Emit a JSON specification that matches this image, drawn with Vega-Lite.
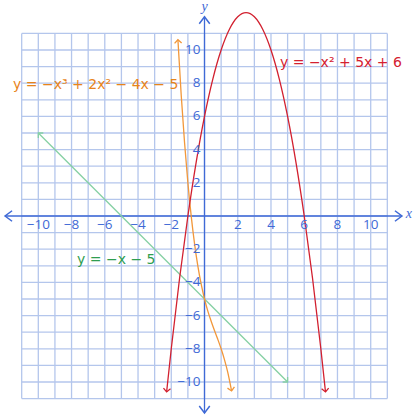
{
  "$schema": "https://vega.github.io/schema/vega-lite/v6.json",
  "width": 414,
  "height": 418,
  "autosize": "none",
  "padding": 0,
  "config": {"view": {"stroke": null}},
  "datasets": {
    "grid": [{"v":-11},{"v":-10},{"v":-9},{"v":-8},{"v":-7},{"v":-6},{"v":-5},{"v":-4},{"v":-3},{"v":-2},{"v":-1},{"v":0},{"v":1},{"v":2},{"v":3},{"v":4},{"v":5},{"v":6},{"v":7},{"v":8},{"v":9},{"v":10},{"v":11}],
    "axes": [{"x1":-12.0,"x2":11.88,"y1":0,"y2":0},{"x1":0,"x2":0,"y1":-11.87,"y2":12.0}],
    "red": [{"x":-2.28,"y":-10.6},{"x":-2,"y":-8},{"x":-1.5,"y":-3.75},{"x":-1,"y":0},{"x":-0.5,"y":3.25},{"x":0,"y":6},{"x":0.5,"y":8.25},{"x":1,"y":10},{"x":1.5,"y":11.25},{"x":2,"y":12},{"x":2.5,"y":12.25},{"x":3,"y":12},{"x":3.5,"y":11.25},{"x":4,"y":10},{"x":4.5,"y":8.25},{"x":5,"y":6},{"x":5.5,"y":3.25},{"x":6,"y":0},{"x":6.5,"y":-3.75},{"x":7,"y":-8},{"x":7.28,"y":-10.6}],
    "orange": [{"x":-1.6,"y":10.62},{"x":-1.4,"y":7.26},{"x":-1.2,"y":4.41},{"x":-1,"y":2},{"x":-0.8,"y":-0.01},{"x":-0.6,"y":-1.66},{"x":-0.4,"y":-3.02},{"x":-0.2,"y":-4.11},{"x":0,"y":-5},{"x":0.2,"y":-5.73},{"x":0.4,"y":-6.34},{"x":0.6,"y":-6.9},{"x":0.8,"y":-7.43},{"x":1,"y":-8},{"x":1.2,"y":-8.65},{"x":1.4,"y":-9.42},{"x":1.63,"y":-10.54}],
    "green": [{"x":-10,"y":5},{"x":5,"y":-10}],
    "arrows": [
      {"series":"red","x":-2.28,"y":-10.6,"dir":96},
      {"series":"red","x":7.28,"y":-10.6,"dir":84},
      {"series":"orange","x":-1.6,"y":10.62,"dir":-93.2},
      {"series":"orange","x":1.63,"y":-10.54,"dir":79.6},
      {"series":"green","x":-10,"y":5,"dir":-135},
      {"series":"green","x":5,"y":-10,"dir":45}
    ],
    "axisArrows": [
      {"x":11.88,"y":0,"dir":0},
      {"x":-12.0,"y":0,"dir":180},
      {"x":0,"y":12.0,"dir":-90},
      {"x":0,"y":-11.87,"dir":90}
    ],
    "xlabels": [{"v":-10,"t":"−10"},{"v":-8,"t":"−8"},{"v":-6,"t":"−6"},{"v":-4,"t":"−4"},{"v":-2,"t":"−2"},{"v":2,"t":"2"},{"v":4,"t":"4"},{"v":6,"t":"6"},{"v":8,"t":"8"},{"v":10,"t":"10"}],
    "ylabels": [{"v":-10,"t":"−10"},{"v":-8,"t":"−8"},{"v":-6,"t":"−6"},{"v":-4,"t":"−4"},{"v":-2,"t":"−2"},{"v":2,"t":"2"},{"v":4,"t":"4"},{"v":6,"t":"6"},{"v":8,"t":"8"},{"v":10,"t":"10"}],
    "titles": [{"x":12.3,"y":0.12,"t":"x"},{"x":0,"y":12.6,"t":"y"}],
    "notes": [
      {"series":"orange","x":-11.52,"y":7.9,"t":"y = −x³ + 2x² − 4x − 5"},
      {"series":"red","x":4.54,"y":9.24,"t":"y = −x² + 5x + 6"},
      {"series":"green","x":-7.67,"y":-2.63,"t":"y = −x − 5"}
    ]
  },
  "layer": [
    {
      "data": {"name": "grid"},
      "mark": {"type": "rule", "color": "#b4c6ec", "strokeWidth": 1.3},
      "encoding": {
        "x": {"field": "v", "type": "quantitative", "scale": {"domain": [-12.305, 12.605], "nice": false, "zero": false}, "axis": null},
        "y": {"datum": -11, "type": "quantitative", "scale": {"domain": [-12.169, 13.012], "nice": false, "zero": false}, "axis": null},
        "y2": {"datum": 11}
      }
    },
    {
      "data": {"name": "grid"},
      "mark": {"type": "rule", "color": "#b4c6ec", "strokeWidth": 1.3},
      "encoding": {
        "y": {"field": "v", "type": "quantitative", "scale": {"domain": [-12.169, 13.012], "nice": false, "zero": false}, "axis": null},
        "x": {"datum": -11, "type": "quantitative", "scale": {"domain": [-12.305, 12.605], "nice": false, "zero": false}, "axis": null},
        "x2": {"datum": 11}
      }
    },
    {
      "data": {"name": "axes"},
      "mark": {"type": "rule", "color": "#3f6ad6", "strokeWidth": 1.3},
      "encoding": {
        "x": {"field": "x1", "type": "quantitative", "scale": {"domain": [-12.305, 12.605], "nice": false, "zero": false}, "axis": null},
        "x2": {"field": "x2"},
        "y": {"field": "y1", "type": "quantitative", "scale": {"domain": [-12.169, 13.012], "nice": false, "zero": false}, "axis": null},
        "y2": {"field": "y2"}
      }
    },
    {
      "data": {"name": "green"},
      "mark": {"type": "line", "color": "#85d0a3", "strokeWidth": 1.3},
      "encoding": {
        "x": {"field": "x", "type": "quantitative", "scale": {"domain": [-12.305, 12.605], "nice": false, "zero": false}, "axis": null},
        "y": {"field": "y", "type": "quantitative", "scale": {"domain": [-12.169, 13.012], "nice": false, "zero": false}, "axis": null}
      }
    },
    {
      "data": {"name": "orange"},
      "mark": {"type": "line", "color": "#f2973a", "strokeWidth": 1.3, "interpolate": "monotone"},
      "encoding": {
        "x": {"field": "x", "type": "quantitative", "scale": {"domain": [-12.305, 12.605], "nice": false, "zero": false}, "axis": null},
        "y": {"field": "y", "type": "quantitative", "scale": {"domain": [-12.169, 13.012], "nice": false, "zero": false}, "axis": null}
      }
    },
    {
      "data": {"name": "red"},
      "mark": {"type": "line", "color": "#d2202f", "strokeWidth": 1.3, "interpolate": "monotone"},
      "encoding": {
        "x": {"field": "x", "type": "quantitative", "scale": {"domain": [-12.305, 12.605], "nice": false, "zero": false}, "axis": null},
        "y": {"field": "y", "type": "quantitative", "scale": {"domain": [-12.169, 13.012], "nice": false, "zero": false}, "axis": null}
      }
    },
    {
      "data": {"name": "arrows"},
      "mark": {"type": "point", "shape": "M-1,-1L0,0L-1,1", "filled": false, "size": 50, "strokeWidth": 1.3, "opacity": 1},
      "encoding": {
        "x": {"field": "x", "type": "quantitative", "scale": {"domain": [-12.305, 12.605], "nice": false, "zero": false}, "axis": null},
        "y": {"field": "y", "type": "quantitative", "scale": {"domain": [-12.169, 13.012], "nice": false, "zero": false}, "axis": null},
        "angle": {"field": "dir", "type": "quantitative", "scale": null},
        "stroke": {"field": "series", "type": "nominal", "scale": {"domain": ["red", "orange", "green"], "range": ["#d2202f", "#f2973a", "#85d0a3"]}, "legend": null}
      }
    },
    {
      "data": {"name": "axisArrows"},
      "mark": {"type": "point", "shape": "M-1,-0.75L0,0L-1,0.75", "filled": false, "size": 196, "strokeWidth": 1.5, "color": "#3f6ad6", "opacity": 1},
      "encoding": {
        "x": {"field": "x", "type": "quantitative", "scale": {"domain": [-12.305, 12.605], "nice": false, "zero": false}, "axis": null},
        "y": {"field": "y", "type": "quantitative", "scale": {"domain": [-12.169, 13.012], "nice": false, "zero": false}, "axis": null},
        "angle": {"field": "dir", "type": "quantitative", "scale": null}
      }
    },
    {
      "data": {"name": "xlabels"},
      "mark": {"type": "text", "font": "Open Sans", "fontSize": 13.5, "color": "#3f6ad6", "align": "center", "baseline": "middle"},
      "encoding": {
        "x": {"field": "v", "type": "quantitative", "scale": {"domain": [-12.305, 12.605], "nice": false, "zero": false}, "axis": null},
        "y": {"datum": -0.55, "type": "quantitative", "scale": {"domain": [-12.169, 13.012], "nice": false, "zero": false}, "axis": null},
        "text": {"field": "t"}
      }
    },
    {
      "data": {"name": "ylabels"},
      "mark": {"type": "text", "font": "Open Sans", "fontSize": 13.5, "color": "#3f6ad6", "align": "right", "baseline": "middle"},
      "encoding": {
        "y": {"field": "v", "type": "quantitative", "scale": {"domain": [-12.169, 13.012], "nice": false, "zero": false}, "axis": null},
        "x": {"datum": -0.24, "type": "quantitative", "scale": {"domain": [-12.305, 12.605], "nice": false, "zero": false}, "axis": null},
        "text": {"field": "t"}
      }
    },
    {
      "data": {"name": "titles"},
      "mark": {"type": "text", "font": "Liberation Serif", "fontStyle": "italic", "fontSize": 14, "color": "#3f6ad6", "align": "center", "baseline": "middle"},
      "encoding": {
        "x": {"field": "x", "type": "quantitative", "scale": {"domain": [-12.305, 12.605], "nice": false, "zero": false}, "axis": null},
        "y": {"field": "y", "type": "quantitative", "scale": {"domain": [-12.169, 13.012], "nice": false, "zero": false}, "axis": null},
        "text": {"field": "t"}
      }
    },
    {
      "data": {"name": "notes"},
      "mark": {"type": "text", "font": "DejaVu Sans", "fontSize": 14, "align": "left", "baseline": "middle"},
      "encoding": {
        "x": {"field": "x", "type": "quantitative", "scale": {"domain": [-12.305, 12.605], "nice": false, "zero": false}, "axis": null},
        "y": {"field": "y", "type": "quantitative", "scale": {"domain": [-12.169, 13.012], "nice": false, "zero": false}, "axis": null},
        "text": {"field": "t"},
        "color": {"field": "series", "type": "nominal", "scale": {"domain": ["red", "orange", "green"], "range": ["#d42030", "#e8841a", "#2e9e50"]}, "legend": null}
      }
    }
  ]
}
